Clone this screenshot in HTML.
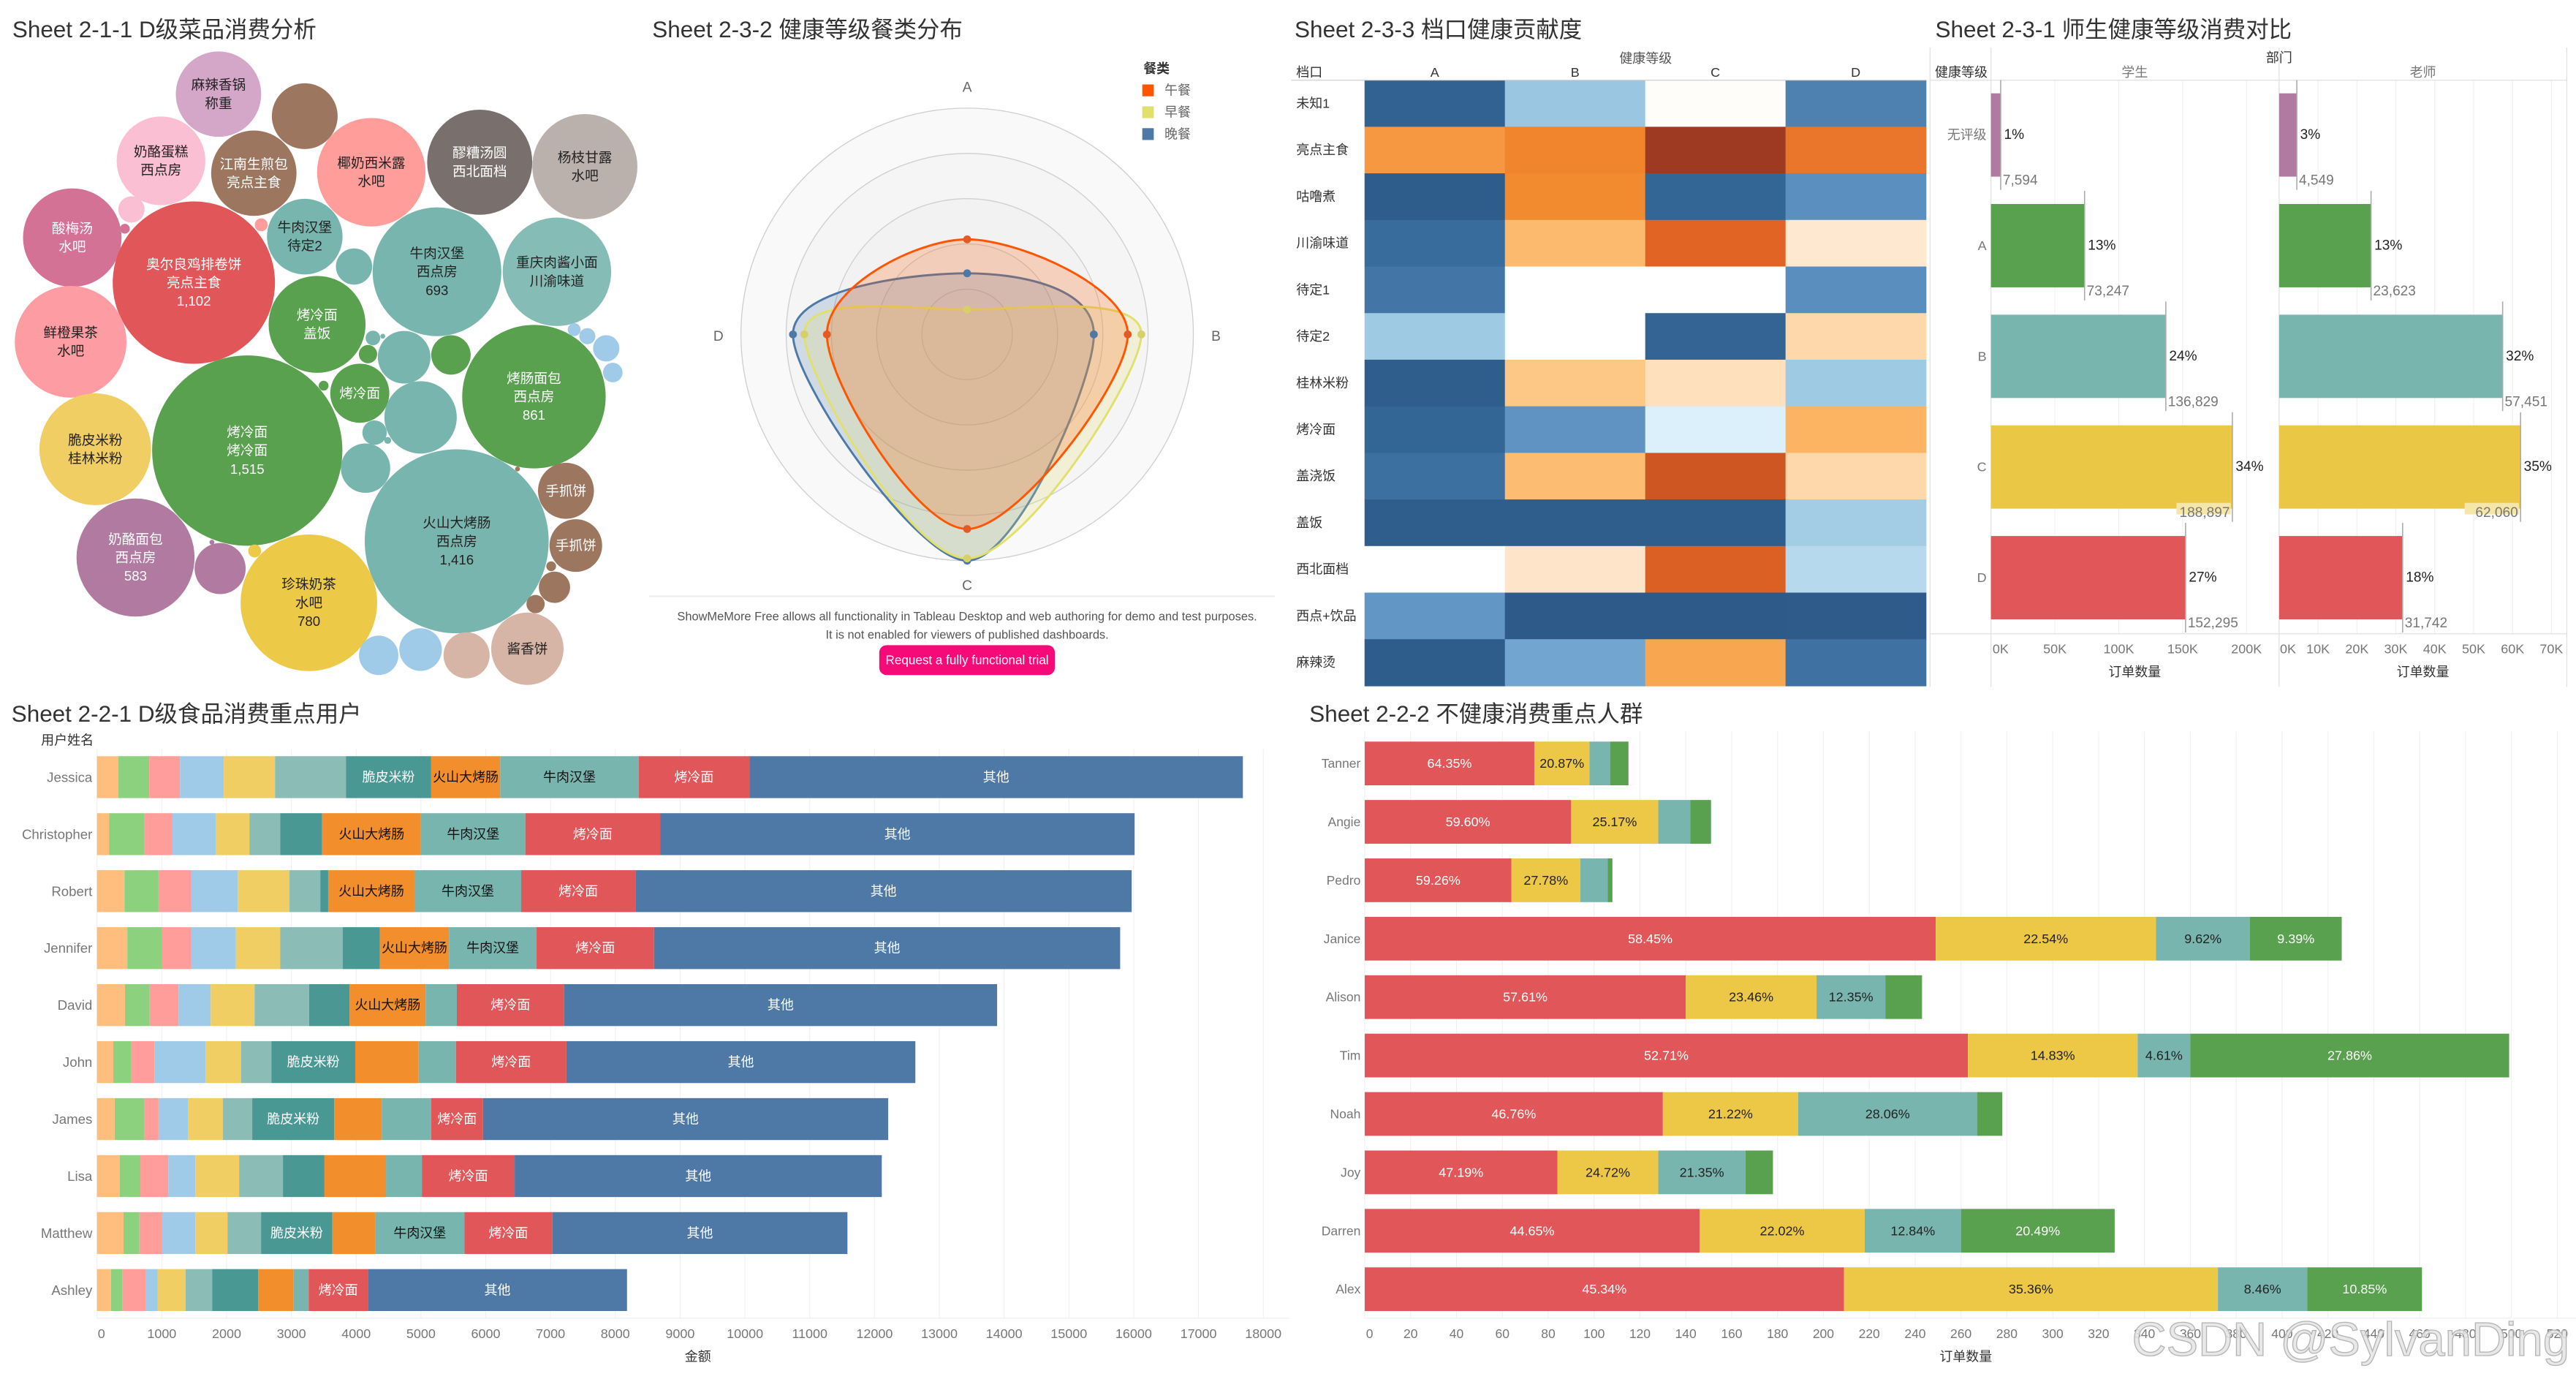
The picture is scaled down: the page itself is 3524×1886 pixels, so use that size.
<!DOCTYPE html>
<html><head><meta charset="utf-8">
<style>
html,body{margin:0;padding:0;background:#fff;}
svg{display:block;font-family:"Liberation Sans","Noto Sans CJK SC",sans-serif;}
</style></head>
<body>
<svg id="chart" xmlns="http://www.w3.org/2000/svg" width="3524" height="1886" viewBox="0 0 1568 839.2" preserveAspectRatio="none">
<rect x="0" y="0" width="1568" height="839.2" fill="#fff"/>
<text x="7.5" y="18" font-size="14" fill="#333" dominant-baseline="central">Sheet 2-1-1 D级菜品消费分析</text>
<text x="397" y="18" font-size="14" fill="#333" dominant-baseline="central">Sheet 2-3-2 健康等级餐类分布</text>
<text x="788" y="18" font-size="14" fill="#333" dominant-baseline="central">Sheet 2-3-3 档口健康贡献度</text>
<text x="1178" y="18" font-size="14" fill="#333" dominant-baseline="central">Sheet 2-3-1 师生健康等级消费对比</text>
<text x="7" y="434.4" font-size="14" fill="#333" dominant-baseline="central">Sheet 2-2-1 D级食品消费重点用户</text>
<text x="797" y="434.4" font-size="14" fill="#333" dominant-baseline="central">Sheet 2-2-2 不健康消费重点人群</text>
</svg>
<script>
// ---------- DATA ----------
// bubble chart
const bubbleNames=["麻辣香锅|称重","","奶酪蛋糕|西点房","江南生煎包|亮点主食","椰奶西米露|水吧","醪糟汤圆|西北面档","杨枝甘露|水吧","","","酸梅汤|水吧","奥尔良鸡排卷饼|亮点主食","","牛肉汉堡|待定2","","牛肉汉堡|西点房","重庆肉酱小面|川渝味道","鲜橙果茶|水吧","烤冷面|盖饭","","","","","","烤肠面包|西点房","","","","","烤冷面","","","","","脆皮米粉|桂林米粉","烤冷面|烤冷面","","火山大烤肠|西点房","","手抓饼","手抓饼","","","","奶酪面包|西点房","","","","珍珠奶茶|水吧","","","","酱香饼"];
const bubbleValues=[305,181,329,305,492,462,462,29,4,406,1102,7,239,55,693,492,522,393,9,1,14,116,65,861,7,11,29,16,146,219,25,2,4,522,1515,102,1416,1,131,116,4,41,14,583,109,1,7,780,65,76,89,219];
const bubbleShowValue=[0,0,0,0,0,0,0,0,0,0,1,0,0,0,1,0,0,0,0,0,0,0,0,1,0,0,0,0,0,0,0,0,0,0,1,0,1,0,0,0,0,0,0,1,0,0,0,1,0,0,0,0];
// pack layout positions (layout, not data)
const packX=[133,185.5,98,154.5,226,292,356,80,76,44,118,159,185.5,215.5,266,339,43,193,227,233,224,246,274.5,325,349.5,357.5,369,373,219,256,228,236,197,58,150.5,222.5,278,315,344.5,350.5,335.5,337.5,326,82.5,134,129,155,188,230.5,256,284,321];
const packY=[57.3,70.7,97.9,105.4,104.8,98.7,101.4,127.5,139.2,144.6,172,136.8,144,162.2,165.4,165.4,208,197.4,205.7,204.6,215.5,217.4,216,241.4,200.6,204.6,212,226.7,239.3,254,263.3,268,234.7,273.4,274.2,284.9,329.4,285.4,298.7,332,344.6,357.4,367.6,339.3,346,330,335.3,366.8,398.8,395.3,398.8,394.8];
const bubbleColors=["#d4a6c8","#9d7660","#fabfd2","#9d7660","#ff9d9a","#79706e","#bab0ac","#fabfd2","#d37295","#d37295","#e15759","#ff9d9a","#79b5af","#79b5af","#79b5af","#86bcb6","#fd9ca2","#59a14f","#79b5af","#79b5af","#59a14f","#79b5af","#59a14f","#59a14f","#a0cbe8","#a0cbe8","#a0cbe8","#a0cbe8","#59a14f","#79b5af","#79b5af","#79b5af","#59a14f","#f1ce63","#59a14f","#79b5af","#79b5af","#9d7660","#9d7660","#9d7660","#9d7660","#9d7660","#9d7660","#b07aa1","#b07aa1","#b07aa1","#edc948","#edc948","#a0cbe8","#a0cbe8","#d7b5a6","#d7b5a6"];
const bubbleDarkText=[1,0,1,0,1,0,1,0,0,0,0,0,1,0,1,1,1,0,0,0,0,0,0,0,0,0,0,0,0,0,0,0,0,1,0,0,1,0,0,0,0,0,0,0,0,0,0,1,0,0,0,1];

// radar
const radarAxes=["A","B","C","D"];
const radarLunch=[0.42,0.71,0.86,0.62];
const radarBreakfast=[0.11,0.77,0.99,0.72];
const radarDinner=[0.27,0.56,1.0,0.77];

// heatmap
const heatRows=["未知1","亮点主食","咕噜煮","川渝味道","待定1","待定2","桂林米粉","烤冷面","盖浇饭","盖饭","西北面档","西点+饮品","麻辣烫"];
const heatCols=["A","B","C","D"];
const heatA=[0.93,-0.55,0.98,0.85,0.8,0.35,0.97,0.9,0.83,0.97,0,0.62,0.98];
const heatB=[0.37,-0.62,-0.6,-0.4,0,0,-0.3,0.63,-0.38,0.97,-0.12,1,0.55];
const heatC=[-0.01,-1,0.9,-0.75,0,0.92,-0.15,0.1,-0.85,0.97,-0.78,1,-0.5];
const heatD=[0.75,-0.68,0.65,-0.1,0.66,-0.2,0.35,-0.45,-0.2,0.33,0.25,0.99,0.82];

// grade bars
const grades=["无评级","A","B","C","D"];
const studentOrders=[7594,73247,136829,188897,152295];
const teacherOrders=[4549,23623,57451,62060,31742];
const studentPct=["1%","13%","24%","34%","27%"];
const teacherPct=["3%","13%","32%","35%","18%"];
const studentTicks=[0,50000,100000,150000,200000];
const studentTickLabels=["0K","50K","100K","150K","200K"];
const teacherTicks=[0,10000,20000,30000,40000,50000,60000,70000];
const teacherTickLabels=["0K","10K","20K","30K","40K","50K","60K","70K"];

// user stacked bars (amounts per segment category)
const users=["Jessica","Christopher","Robert","Jennifer","David","John","James","Lisa","Matthew","Ashley"];
const segNames=["","","","","","","脆皮米粉","火山大烤肠","牛肉汉堡","烤冷面","其他"];
const seg1=[331,187,424,468,432,252,273,353,410,216];
const seg2=[475,547,526,539,381,280,461,316,245,172];
const seg3=[475,431,503,446,446,353,216,432,352,360];
const seg4=[676,670,720,691,496,791,453,417,511,187];
const seg5=[791,518,798,683,677,547,539,676,496,432];
const seg6=[1094,474,475,964,841,468,454,676,518,410];
const segCrispy=[1316,648,122,576,626,1295,1266,641,1101,712];
const segSausage=[1065,1525,1331,1065,1173,978,734,949,662,547];
const segBurger=[2137,1611,1648,1352,482,576,762,554,1374,230];
const segNoodle=[1708,2080,1762,1813,1655,1705,799,1432,1360,914];
const segOther=[7617,7323,7660,7194,6683,5385,6254,5666,4553,4000];
const userTicks=[0,1000,2000,3000,4000,5000,6000,7000,8000,9000,10000,11000,12000,13000,14000,15000,16000,17000,18000];

// unhealthy stacked bars (order counts per grade)
const people=["Tanner","Angie","Pedro","Janice","Alison","Tim","Noah","Joy","Darren","Alex"];
const gradeD=[74,90,64,249,140,263,130,84,146,209];
const gradeC=[24,38,30,96,57,74,59,44,72,163];
const gradeB=[9,14,12,41,30,23,78,38,42,39];
const gradeA=[8,9,2,40,16,139,11,12,67,50];
const peopleTicks=[0,20,40,60,80,100,120,140,160,180,200,220,240,260,280,300,320,340,360,380,400,420,440,460,480,500,520];

// ---------- DRAWING ----------
const NS='http://www.w3.org/2000/svg';
const svg=document.getElementById('chart');
function mk(tag,attrs,parent){const e=document.createElementNS(NS,tag);for(const k in attrs)e.setAttribute(k,attrs[k]);(parent||svg).appendChild(e);return e;}
function tx(str,attrs,parent){const e=mk('text',attrs,parent);e.textContent=str;return e;}
function fmt(v){return v.toString().replace(/\B(?=(\d{3})+(?!\d))/g,',');}

// ===== Bubble chart =====
const gB=mk('g',{});


const bubbleK=1.488;
for(let i=0;i<bubbleValues.length;i++){
  const r=bubbleK*Math.sqrt(bubbleValues[i]);
  const c=mk('circle',{cx:packX[i],cy:packY[i],r:r,fill:bubbleColors[i]},gB);
  
  
  const lines=bubbleNames[i]?bubbleNames[i].split('|'):[];
  if(bubbleShowValue[i])lines.push(fmt(bubbleValues[i]));
  const n=lines.length;
  const col=bubbleDarkText[i]?'#222':'#fff';
  lines.forEach((ln,j)=>{
    const t=tx(ln,{x:packX[i],y:packY[i]+(j-(n-1)/2)*11.2,'font-size':8.3,fill:col,'text-anchor':'middle','dominant-baseline':'central'},gB);
    
    
  });
}

// ===== Radar =====
const gR=mk('g',{});


const rcx=588.7,rcy=203.5,rmax=137.7;
const ringFills=['#f9f9f9','#f5f5f5','#f2f2f2','#efefef','#ececec'];
for(let k=5;k>=1;k--){
  const ring=mk('circle',{cx:rcx,cy:rcy,r:rmax*k/5,fill:ringFills[5-k],stroke:'#cfcfcf','stroke-width':0.6},gR);
  
  
}
const angles=[-Math.PI/2,0,Math.PI/2,Math.PI];
const labelOff=[[0,-150.2],[151.5,1.4],[0,153.1],[-151.4,1.4]];
radarAxes.forEach((a,i)=>{
  const t=tx(a,{x:rcx+labelOff[i][0],y:rcy+labelOff[i][1],'font-size':8.5,fill:'#666','text-anchor':'middle','dominant-baseline':'central'},gR);
  
  
});
function radarPts(vals){return vals.map((v,i)=>[rcx+Math.cos(angles[i])*v*rmax,rcy+Math.sin(angles[i])*v*rmax]);}
function closedSpline(p){
  const n=p.length;let d='M'+p[0][0]+','+p[0][1];
  for(let i=0;i<n;i++){
    const p0=p[(i-1+n)%n],p1=p[i],p2=p[(i+1)%n],p3=p[(i+2)%n];
    const c1=[p1[0]+(p2[0]-p0[0])/6,p1[1]+(p2[1]-p0[1])/6];
    const c2=[p2[0]-(p3[0]-p1[0])/6,p2[1]-(p3[1]-p1[1])/6];
    d+='C'+c1[0]+','+c1[1]+' '+c2[0]+','+c2[1]+' '+p2[0]+','+p2[1];
  }
  return d+'Z';
}
const radarSeries=[[radarDinner,'#4e79a7','#4e79a7','dinner'],[radarBreakfast,'#e2e06c','#d6cf6a','breakfast'],[radarLunch,'#ff5500','#e35a22','lunch']];
radarSeries.forEach(s=>{
  const pts=radarPts(s[0]);
  const p=mk('path',{d:closedSpline(pts),fill:s[1],'fill-opacity':0.22,stroke:s[1],'stroke-width':1.3},gR);
  
  
});
radarSeries.forEach(s=>{
  radarPts(s[0]).forEach(pt=>{
    const c=mk('circle',{cx:pt[0],cy:pt[1],r:2.4,fill:s[2]},gR);
    
    
  });
});
const lg=tx('餐类',{x:696,y:41.9,'font-size':8,'font-weight':'bold',fill:'#333','dominant-baseline':'central'},gR);


[['午餐','#ff5500',55],['早餐','#e2e06c',68.3],['晚餐','#4e79a7',81.6]].forEach(l=>{
  const sw=mk('rect',{x:695.3,y:l[2]-3.6,width:7,height:7.2,fill:l[1]},gR);
  
  
  const t=tx(l[0],{x:708.8,y:l[2],'font-size':8,fill:'#666','dominant-baseline':'central'},gR);
  
  
});
// watermark box
const wb=mk('rect',{x:395,y:362.8,width:381,height:56,fill:'#fff'},gR);


const wl=mk('line',{x1:395,y1:362.8,x2:776,y2:362.8,stroke:'#eee','stroke-width':1},gR);


const w1=tx('ShowMeMore Free allows all functionality in Tableau Desktop and web authoring for demo and test purposes.',{x:588.7,y:375.3,'font-size':7.3,fill:'#555','text-anchor':'middle','dominant-baseline':'central'},gR);


const w2=tx('It is not enabled for viewers of published dashboards.',{x:588.7,y:386.5,'font-size':7.3,fill:'#555','text-anchor':'middle','dominant-baseline':'central'},gR);


const btn=mk('rect',{x:535.2,y:392.6,width:106.9,height:18.2,rx:4.5,fill:'#f50a78'},gR);


const bt=tx('Request a fully functional trial',{x:588.7,y:401.7,'font-size':7.6,fill:'#fff','text-anchor':'middle','dominant-baseline':'central'},gR);



// ===== Heatmap =====
const gH=mk('g',{});


const stops=[[-1,[158,58,34]],[-0.85,[205,86,34]],[-0.75,[225,100,36]],[-0.6,[242,138,48]],[-0.45,[252,180,98]],[-0.3,[253,199,133]],[-0.1,[254,232,208]],[0,[255,255,255]],[0.1,[220,240,251]],[0.35,[158,202,227]],[0.55,[114,165,207]],[0.65,[91,143,191]],[0.75,[78,128,176]],[0.85,[56,108,156]],[1,[45,90,136]]];
function heatColor(v){
  for(let i=0;i<stops.length-1;i++){
    if(v<=stops[i+1][0]){
      const t=(v-stops[i][0])/(stops[i+1][0]-stops[i][0]);
      const c=stops[i][1].map((a,k)=>Math.round(a+(stops[i+1][1][k]-a)*t));
      return 'rgb('+c.join(',')+')';
    }
  }
  return 'rgb(45,90,136)';
}
const hx0=830.6,hcw=85.42,hy0=48.8,hrh=28.35;
const heatCols_vals=[heatA,heatB,heatC,heatD];
heatRows.forEach((rn,i)=>{
  const t=tx(rn,{x:789,y:hy0+hrh*(i+0.5),'font-size':8,fill:'#333','dominant-baseline':'central'},gH);
  
  
  heatCols_vals.forEach((arr,j)=>{
    const r=mk('rect',{x:hx0+j*hcw,y:hy0+i*hrh,width:hcw+0.3,height:hrh+0.3,fill:heatColor(arr[i])},gH);
    
    
  });
});
heatCols.forEach((c,j)=>{
  const t=tx(c,{x:hx0+hcw*(j+0.5),y:44,'font-size':8,fill:'#333','text-anchor':'middle','dominant-baseline':'central'},gH);
  
  
});
const hh=tx('健康等级',{x:1001.7,y:35.5,'font-size':8,fill:'#555','text-anchor':'middle','dominant-baseline':'central'},gH);


const hr=tx('档口',{x:789,y:44,'font-size':8,fill:'#333','dominant-baseline':'central'},gH);


const hl=mk('line',{x1:786,y1:hy0,x2:1172.3,y2:hy0,stroke:'#ccc','stroke-width':0.5},gH);



// ===== Grade bars =====
const gG=mk('g',{});


const gradeColors=['#b07aa1','#59a14f','#79b5af','#eac846','#e15759'];
const insideLabel=[0,0,0,1,0];
const gBarTop=56.8,gStep=67.35,gBarH=50.7;
const xS=v=>1211.9+v*38.89/50000;
const xT=v=>1387.3+v*23.68/10000;
// grid
studentTicks.forEach((t,i)=>{
  if(i>0){const l=mk('line',{x1:xS(t),y1:48.8,x2:xS(t),y2:385.7,stroke:'#f0f0f0','stroke-width':0.5},gG);
  
  }
  const lb=tx(studentTickLabels[i],{x:i==0?xS(t)+1:xS(t),y:394.8,'font-size':8,fill:'#777','text-anchor':i==0?'start':'middle','dominant-baseline':'central'},gG);
  
  
});
teacherTicks.forEach((t,i)=>{
  if(i>0){const l=mk('line',{x1:xT(t),y1:48.8,x2:xT(t),y2:385.7,stroke:'#f0f0f0','stroke-width':0.5},gG);
  
  }
  const lb=tx(teacherTickLabels[i],{x:i==0?xT(t)+0.5:xT(t),y:394.8,'font-size':8,fill:'#777','text-anchor':i==0?'start':'middle','dominant-baseline':'central'},gG);
  
  
});
[1174.8,1211.9,1387.3,1562.4].forEach(x=>{
  const l=mk('line',{x1:x,y1:29,x2:x,y2:418,stroke:'#ddd','stroke-width':0.5},gG);
  
  
});
const gl1=mk('line',{x1:1174.8,y1:48.8,x2:1562.4,y2:48.8,stroke:'#ddd','stroke-width':0.5},gG);


const gl2=mk('line',{x1:1174.8,y1:385.7,x2:1562.4,y2:385.7,stroke:'#ddd','stroke-width':0.5},gG);


[['部门',1387.3,35.2,'middle','#333'],['健康等级',1177.8,44,'start','#333'],['学生',1299.4,44,'middle','#777'],['老师',1474.8,44,'middle','#777'],['订单数量',1299.4,408.9,'middle','#333'],['订单数量',1474.8,408.9,'middle','#333']].forEach(h=>{
  const t=tx(h[0],{x:h[1],y:h[2],'font-size':8,fill:h[4],'text-anchor':h[3],'dominant-baseline':'central'},gG);
  
  
});
grades.forEach((g,i)=>{
  const y=gBarTop+i*gStep;
  const t=tx(g,{x:1209.2,y:y+gBarH/2,'font-size':8,fill:'#777','text-anchor':'end','dominant-baseline':'central'},gG);
  
  
  [[studentOrders,studentPct,xS,'student'],[teacherOrders,teacherPct,xT,'teacher']].forEach(p=>{
    const x0=p[2](0),x1=p[2](p[0][i]);
    const b=mk('rect',{x:x0,y:y,width:x1-x0,height:gBarH,fill:gradeColors[i]},gG);
    
    
    const rl=mk('line',{x1:x1,y1:y-8,x2:x1,y2:y+gBarH+8,stroke:'#aaa','stroke-width':0.7},gG);
    
    
    const pt=tx(p[1][i],{x:x1+2,y:y+gBarH/2,'font-size':8.5,fill:'#222','dominant-baseline':'central'},gG);
    
    
    if(insideLabel[i]){
      const bg=mk('rect',{x:x1-34,y:y+gBarH-3.5,width:33,height:7,fill:'#f6e7a8'},gG);
      
      
    }
    const vt=tx(fmt(p[0][i]),{x:insideLabel[i]?x1-1.5:x1+1.3,y:y+gBarH+2.5,'font-size':8.5,fill:'#777','text-anchor':insideLabel[i]?'end':'start','dominant-baseline':'central'},gG);
    
    
  });
});

// ===== User stacked bars =====
const gU=mk('g',{});


const xU=v=>59.04+v*39.44/1000;
const uTop=460.2,uStep=34.68,uH=25.5;
const segArrays=[seg1,seg2,seg3,seg4,seg5,seg6,segCrispy,segSausage,segBurger,segNoodle,segOther];
const segColors=['#ffbe7d','#8cd17d','#ff9d9a','#a0cbe8','#f1ce63','#8bbcb6','#499894','#f28e2b','#79b5af','#e15759','#4e79a7'];
const segTextColors=['#222','#222','#222','#222','#222','#222','#fff','#111','#111','#fff','#fff'];
userTicks.forEach(t=>{
  const l=mk('line',{x1:xU(t),y1:455.9,x2:xU(t),y2:802.2,stroke:'#f0f0f0','stroke-width':0.5},gU);
  
  
  const lb=tx(String(t),{x:t==0?xU(t)+0.5:xU(t),y:811.6,'font-size':8,fill:'#777','text-anchor':t==0?'start':'middle','dominant-baseline':'central'},gU);
  
  
});
const ua=mk('line',{x1:59,y1:802.2,x2:785,y2:802.2,stroke:'#eee','stroke-width':0.5},gU);


const uat=tx('金额',{x:424.8,y:825.6,'font-size':8,fill:'#333','text-anchor':'middle','dominant-baseline':'central'},gU);


const uyt=tx('用户姓名',{x:25,y:450.5,'font-size':8,fill:'#333','dominant-baseline':'central'},gU);


users.forEach((u,i)=>{
  const y=uTop+i*uStep;
  const t=tx(u,{x:56.2,y:y+uH/2,'font-size':8.3,fill:'#777','text-anchor':'end','dominant-baseline':'central'},gU);
  
  
  let acc=0;
  segArrays.forEach((arr,k)=>{
    const x0=xU(acc),x1=xU(acc+arr[i]);acc+=arr[i];
    const r=mk('rect',{x:x0,y:y,width:Math.max(0,x1-x0),height:uH,fill:segColors[k]},gU);
    
    
    const nm=segNames[k];
    if(nm&&(x1-x0)>nm.length*7.9+0.5){
      const lt=tx(nm,{x:(x0+x1)/2,y:y+uH/2,'font-size':8,fill:segTextColors[k],'text-anchor':'middle','dominant-baseline':'central'},gU);
      
      
    }
  });
});

// ===== Unhealthy stacked bars =====
const gP=mk('g',{});


const xP=v=>830.7+v*1.396;
const pTop=451.3,pStep=35.55,pH=26.6;
peopleTicks.forEach(t=>{
  const l=mk('line',{x1:xP(t),y1:445,x2:xP(t),y2:802.2,stroke:'#f0f0f0','stroke-width':0.5},gP);
  
  
  const lb=tx(String(t),{x:t==0?xP(t)+0.8:xP(t),y:811.6,'font-size':7.8,fill:'#777','text-anchor':t==0?'start':'middle','dominant-baseline':'central'},gP);
  
  
});
const pa=mk('line',{x1:830.7,y1:802.2,x2:1568,y2:802.2,stroke:'#eee','stroke-width':0.5},gP);


const pat=tx('订单数量',{x:1196.6,y:825.6,'font-size':8,fill:'#333','text-anchor':'middle','dominant-baseline':'central'},gP);


const pSeries=[gradeD,gradeC,gradeB,gradeA];
const pColors=['#e15759','#ecc846','#79b5af','#59a14f'];
const pText=['#fff','#222','#222','#fff'];
people.forEach((p,i)=>{
  const y=pTop+i*pStep;
  const t=tx(p,{x:828.2,y:y+pH/2,'font-size':7.8,fill:'#777','text-anchor':'end','dominant-baseline':'central'},gP);
  
  
  const total=pSeries.reduce((s,a)=>s+a[i],0);
  let acc=0;
  pSeries.forEach((arr,k)=>{
    const x0=xP(acc),x1=xP(acc+arr[i]);acc+=arr[i];
    const r=mk('rect',{x:x0,y:y,width:x1-x0,height:pH,fill:pColors[k]},gP);
    
    
    if(x1-x0>25){
      const lt=tx((arr[i]/total*100).toFixed(2)+'%',{x:(x0+x1)/2,y:y+pH/2,'font-size':8,fill:pText[k],'text-anchor':'middle','dominant-baseline':'central'},gP);
      
      
    }
  });
});
const wm=tx('CSDN @SylvanDing',{x:1564,y:815,'font-size':29,fill:'#e4e4e4','fill-opacity':0.85,stroke:'#b5b5b5','stroke-width':0.6,'text-anchor':'end','dominant-baseline':'central'});


</script>
</body></html>
